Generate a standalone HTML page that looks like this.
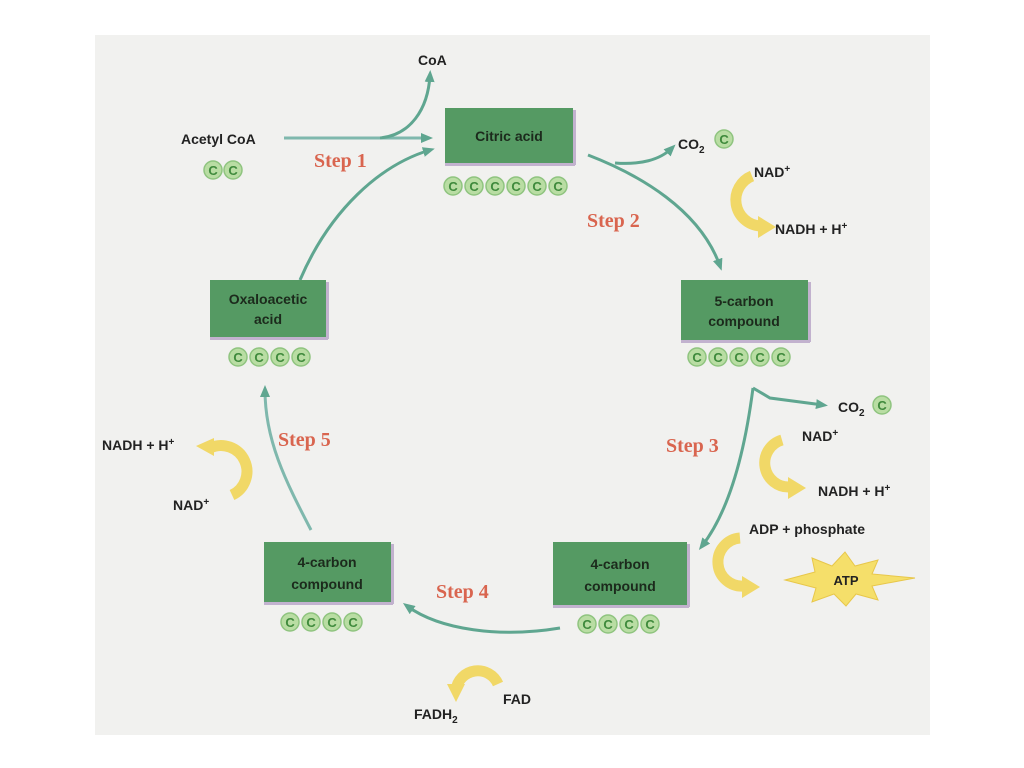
<!DOCTYPE html>
<html><head><meta charset="utf-8"><style>
html,body{margin:0;padding:0;background:#fff;width:1024px;height:768px;overflow:hidden}
svg{display:block}
.t{font-family:"Liberation Sans",sans-serif;font-weight:bold;font-size:14px;fill:#222}
.bx{font-family:"Liberation Sans",sans-serif;font-weight:bold;font-size:14px;fill:#1c2a1c;text-anchor:middle}
.s{font-family:"Liberation Serif",serif;font-weight:bold;font-size:20px;fill:#d9654f}
.c{font-family:"Liberation Sans",sans-serif;font-weight:bold;font-size:13px;fill:#3f8a3c;text-anchor:middle}
</style></head><body>
<svg width="1024" height="768" viewBox="0 0 1024 768">
<defs>
<marker id="a" markerWidth="12" markerHeight="10" refX="7" refY="5" orient="auto" markerUnits="userSpaceOnUse"><path d="M0,0 L12,5 L0,10 Z" fill="#5fa690"/></marker>
<g id="cc"><circle r="9" fill="#b9dda3" stroke="#8fc47f" stroke-width="1.5"/><text class="c" y="5">C</text></g>
</defs>
<rect x="95" y="35" width="835" height="700" fill="#f1f1ef"/>
<g fill="none" stroke="#7fb8ad" stroke-width="3">
<path d="M284,138 L428,138" marker-end="url(#a)"/>
<path d="M380,138 C410,135 428,110 430,75" stroke="#5fa690" marker-end="url(#a)"/>
<path d="M300,280 C330,210 380,165 430,150" stroke="#5fa690" marker-end="url(#a)"/>
<path d="M588,155 C640,175 700,210 720,266" stroke="#5fa690" marker-end="url(#a)"/>
<path d="M615,163 C640,165 660,160 672,148" stroke="#5fa690" marker-end="url(#a)"/>
<path d="M753,388 C745,450 730,510 702,546" stroke="#5fa690" marker-end="url(#a)"/>
<path d="M753,388 L770,398 L823,405" stroke="#5fa690" marker-end="url(#a)"/>
<path d="M560,628 C500,638 440,630 407,606" stroke="#5fa690" marker-end="url(#a)"/>
<path d="M311,530 C285,480 265,440 265,390" stroke="#7fb8ad" marker-end="url(#a)"/>
</g>
<g fill="none" stroke="#f1d867" stroke-width="11">
<path d="M752,176 A26,26 0 0 0 760,226"/>
<path d="M782,440 A24,24 0 0 0 790,487"/>
<path d="M740,538 A24,24 0 0 0 744,586"/>
<path d="M210,448 A24,24 0 0 1 232,495"/>
<path d="M456,690 A22,22 0 0 1 498,684"/>
</g>
<g fill="#f1d867">
<path d="M758,216 L776,227 L758,238 Z"/>
<path d="M788,477 L806,488 L788,499 Z"/>
<path d="M742,576 L760,587 L742,598 Z"/>
<path d="M214,438 L196,446 L214,456 Z"/>
<path d="M447,684 L456,702 L465,684 Z"/>
</g>
<path d="M785,580 L815,572 L812,558 L832,566 L845,552 L855,566 L878,560 L872,574 L915,578 L872,586 L878,600 L856,594 L846,606 L834,594 L812,602 L816,588 Z" fill="#f5df6a" stroke="#e8c74a"/>
<text class="t" x="846" y="585" text-anchor="middle" style="font-size:13px">ATP</text>
<g fill="#559a63">
<rect x="445" y="108" width="128" height="55"/>
<rect x="681" y="280" width="127" height="60"/>
<rect x="210" y="280" width="116" height="57"/>
<rect x="264" y="542" width="127" height="60"/>
<rect x="553" y="542" width="134" height="63"/>
</g>
<g fill="#b7a3c7" opacity="0.8">
<rect x="445" y="163" width="130" height="3"/><rect x="573" y="110" width="3" height="55"/>
<rect x="681" y="340" width="129" height="3"/><rect x="808" y="282" width="3" height="60"/>
<rect x="210" y="337" width="118" height="3"/><rect x="326" y="282" width="3" height="57"/>
<rect x="264" y="602" width="129" height="3"/><rect x="391" y="544" width="3" height="60"/>
<rect x="553" y="605" width="136" height="3"/><rect x="687" y="544" width="3" height="63"/>
</g>
<text class="bx" x="509" y="141">Citric acid</text>
<text class="bx" x="744" y="306">5-carbon</text><text class="bx" x="744" y="326">compound</text>
<text class="bx" x="268" y="304">Oxaloacetic</text><text class="bx" x="268" y="324">acid</text>
<text class="bx" x="327" y="567">4-carbon</text><text class="bx" x="327" y="589">compound</text>
<text class="bx" x="620" y="569">4-carbon</text><text class="bx" x="620" y="591">compound</text>
<g transform="translate(0,186)"><use href="#cc" x="453"/><use href="#cc" x="474"/><use href="#cc" x="495"/><use href="#cc" x="516"/><use href="#cc" x="537"/><use href="#cc" x="558"/></g>
<g transform="translate(0,357)"><use href="#cc" x="697"/><use href="#cc" x="718"/><use href="#cc" x="739"/><use href="#cc" x="760"/><use href="#cc" x="781"/></g>
<g transform="translate(0,357)"><use href="#cc" x="238"/><use href="#cc" x="259"/><use href="#cc" x="280"/><use href="#cc" x="301"/></g>
<g transform="translate(0,622)"><use href="#cc" x="290"/><use href="#cc" x="311"/><use href="#cc" x="332"/><use href="#cc" x="353"/></g>
<g transform="translate(0,624)"><use href="#cc" x="587"/><use href="#cc" x="608"/><use href="#cc" x="629"/><use href="#cc" x="650"/></g>
<g transform="translate(0,170)"><use href="#cc" x="213"/><use href="#cc" x="233"/></g>
<use href="#cc" x="724" y="139"/><use href="#cc" x="882" y="405"/>
<text class="t" x="418" y="65">CoA</text>
<text class="t" x="181" y="144">Acetyl CoA</text>
<text class="t" x="678" y="149">CO<tspan dy="4" font-size="10">2</tspan></text>
<text class="t" x="754" y="177">NAD<tspan dy="-5" font-size="10">+</tspan></text>
<text class="t" x="775" y="234">NADH + H<tspan dy="-5" font-size="10">+</tspan></text>
<text class="t" x="838" y="412">CO<tspan dy="4" font-size="10">2</tspan></text>
<text class="t" x="802" y="441">NAD<tspan dy="-5" font-size="10">+</tspan></text>
<text class="t" x="818" y="496">NADH + H<tspan dy="-5" font-size="10">+</tspan></text>
<text class="t" x="749" y="534">ADP + phosphate</text>
<text class="t" x="102" y="450">NADH + H<tspan dy="-5" font-size="10">+</tspan></text>
<text class="t" x="173" y="510">NAD<tspan dy="-5" font-size="10">+</tspan></text>
<text class="t" x="503" y="704">FAD</text>
<text class="t" x="414" y="719">FADH<tspan dy="4" font-size="10">2</tspan></text>
<text class="s" x="314" y="167">Step 1</text>
<text class="s" x="587" y="227">Step 2</text>
<text class="s" x="666" y="452">Step 3</text>
<text class="s" x="436" y="598">Step 4</text>
<text class="s" x="278" y="446">Step 5</text>
</svg>
</body></html>
